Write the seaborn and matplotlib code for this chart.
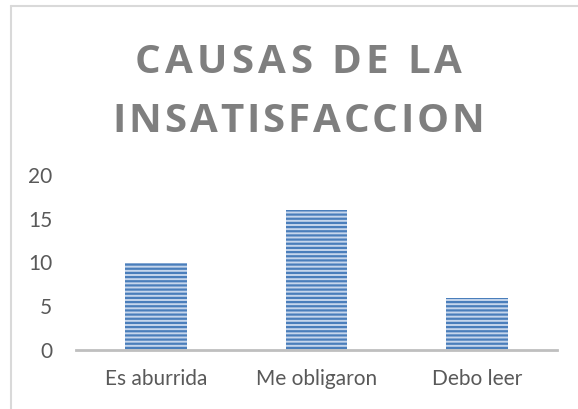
import matplotlib
matplotlib.use("Agg")
import pandas as pd
import seaborn as sns
import matplotlib.pyplot as plt
from matplotlib.lines import Line2D

causas = ["Es aburrida", "Me obligaron", "Debo leer"]
cantidad = [10, 16, 6]
y_ticks = [0, 5, 10, 15, 20]
titulo = ["CAUSAS DE LA", "INSATISFACCION"]

df = pd.DataFrame({"Causa": causas, "Cantidad": cantidad})

sns.set_style("white")
plt.rcParams["font.family"] = ["Lato", "DejaVu Sans"]
plt.rcParams["hatch.linewidth"] = 1.6

W, H = 578, 409
fig = plt.figure(figsize=(W / 100, H / 100), dpi=100)
ax = fig.add_axes([76 / W, 59 / H, 481 / W, 175 / H])

ax = sns.barplot(data=df, x="Causa", y="Cantidad", color="#c6d6ec",
                 saturation=1, width=0.385, ax=ax)
for p in ax.patches:
    p.set_hatch("----")
    p.set_edgecolor("#4a7ebb")
    p.set_linewidth(0)

ax.set_ylim(0, 20)
ax.set_xlim(-0.5, 2.5)
ax.set_yticks(y_ticks)
ax.set_xlabel("")
ax.set_ylabel("")
for s in ["top", "right", "left"]:
    ax.spines[s].set_visible(False)
ax.spines["bottom"].set_color("#bfbfbf")
ax.spines["bottom"].set_linewidth(2)
ax.tick_params(axis="y", length=0, pad=17, labelsize=15, labelcolor="#595959")
ax.tick_params(axis="x", length=0, pad=14, labelsize=15, labelcolor="#595959")

# title with wide letter spacing, drawn letter by letter
fig.canvas.draw()
renderer = fig.canvas.get_renderer()
tstyle = dict(fontsize=29, fontweight="bold", color="#7f7f7f",
              family="Open Sans", va="baseline", ha="left")


def text_width(s):
    t = fig.text(0, 0, s, **tstyle)
    w = t.get_window_extent(renderer).width
    t.remove()
    return w


space_w = text_width("I I") - text_width("II")
for line, baseline, tracking in zip(titulo, [73, 132], [4.3, 2.9]):
    widths = [space_w if c == " " else text_width(c) for c in line]
    total = sum(widths) + tracking * (len(line) - 1)
    x = 298.5 - total / 2
    for c, w in zip(line, widths):
        if c != " ":
            fig.text(x / W, 1 - baseline / H, c, **tstyle)
        x += w + tracking

# chart border (only top and left are visible in the crop)
fig.add_artist(Line2D([11 / W, 11 / W], [0, 1 - 6 / H],
                      transform=fig.transFigure, color="#d9d9d9", lw=1.5))
fig.add_artist(Line2D([11 / W, 1], [1 - 6 / H, 1 - 6 / H],
                      transform=fig.transFigure, color="#d9d9d9", lw=1.5))

plt.savefig("out.png", dpi=100)
